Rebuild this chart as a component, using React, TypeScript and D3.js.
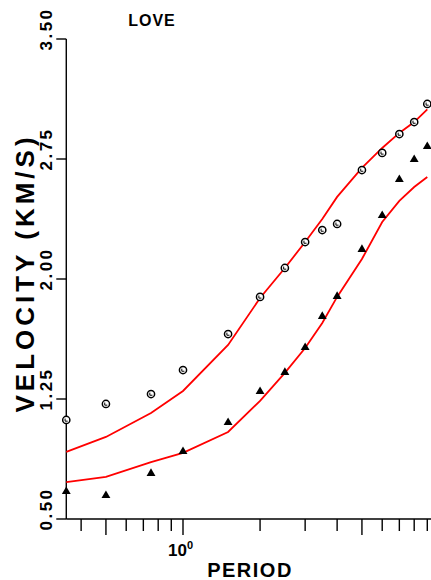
import React from "react";
import * as d3 from "d3";

const periods = [0.35, 0.5, 0.75, 1, 1.5, 2, 2.5, 3, 3.5, 4, 5, 6, 7, 8, 9];
const circleVel = [1.119, 1.219, 1.281, 1.431, 1.656, 1.888, 2.069, 2.231, 2.306, 2.344, 2.681, 2.788, 2.906, 2.981, 3.094];
const triangleVel = [0.675, 0.65, 0.788, 0.925, 1.106, 1.3, 1.419, 1.575, 1.769, 1.894, 2.188, 2.4, 2.625, 2.75, 2.831];
const upperModel = [0.919, 1.013, 1.163, 1.3, 1.588, 1.881, 2.069, 2.231, 2.375, 2.513, 2.694, 2.819, 2.913, 2.981, 3.06];
const lowerModel = [0.731, 0.763, 0.856, 0.913, 1.044, 1.238, 1.413, 1.569, 1.725, 1.888, 2.125, 2.356, 2.488, 2.575, 2.638];
const yTicks = [0.5, 1.25, 2.0, 2.75, 3.5];
const yTickLabels = ["0.50", "1.25", "2.00", "2.75", "3.50"];
const xMinorTicks = [0.4, 0.5, 0.6, 0.7, 0.8, 0.9, 1, 2, 3, 4, 5, 6, 7, 8, 9];
const xLongTicks = [0.5, 1, 5];

const W = 431;
const H = 580;
const font = "'Liberation Sans', Arial, Helvetica, sans-serif";

export default function App() {
  const x = d3.scaleLog().domain([1, 10]).range([183, 439]);
  const y = d3.scaleLinear().domain([0.5, 3.5]).range([519, 39]);
  const x0 = x(0.35);
  const line = d3
    .line<number>()
    .x((_, i) => x(periods[i]))
    .y((d) => y(d));
  const tri = d3.symbol().type(d3.symbolTriangle).size(34)() as string;

  return (
    <svg
      width={W}
      height={H}
      style={{ position: "absolute", left: 0, top: 0, background: "#fff" }}
      fontFamily={font}
    >
      <defs>
        <clipPath id="plot">
          <rect x={x0 - 6} y={30} width={W - x0 + 6} height={500} />
        </clipPath>
      </defs>
      {/* axes */}
      <line x1={x0} x2={x0} y1={y(3.5)} y2={y(0.5)} stroke="#000" strokeWidth={1.4} />
      <line x1={x0} x2={W} y1={y(0.5)} y2={y(0.5)} stroke="#000" strokeWidth={1.4} />
      {yTicks.map((t, i) => (
        <g key={t}>
          <line x1={x0 - 10} x2={x0} y1={y(t)} y2={y(t)} stroke="#000" strokeWidth={1.4} />
          <text
            transform={`translate(46,${y(t) - 10}) rotate(-90)`}
            textAnchor="middle"
            dominantBaseline="central"
            fontSize={17}
            fontWeight="bold"
            letterSpacing={2.5}
            fill="#000"
          >
            {yTickLabels[i]}
          </text>
        </g>
      ))}
      {xMinorTicks.map((t) => (
        <line
          key={t}
          x1={x(t)}
          x2={x(t)}
          y1={y(0.5)}
          y2={y(0.5) + (xLongTicks.includes(t) ? 16 : 12)}
          stroke="#000"
          strokeWidth={1.4}
        />
      ))}
      <text x={x(1) - 15} y={556} fontSize={17} fontWeight="bold" fill="#000">
        10
        <tspan dy={-7} fontSize={11}>
          0
        </tspan>
      </text>
      <text x={250} y={577} textAnchor="middle" fontSize={20} fontWeight="bold" letterSpacing={1.5} fill="#000">
        PERIOD
      </text>
      <text
        transform="translate(25,273) rotate(-90)"
        textAnchor="middle"
        dominantBaseline="central"
        fontSize={26}
        fontWeight="bold"
        letterSpacing={4}
        fill="#000"
      >
        VELOCITY (KM/S)
      </text>
      <text x={152} y={26} textAnchor="middle" fontSize={16} fontWeight="bold" letterSpacing={1} fill="#000">
        LOVE
      </text>
      <g clipPath="url(#plot)">
        <path d={line(upperModel) || ""} fill="none" stroke="#ff0000" strokeWidth={1.8} />
        <path d={line(lowerModel) || ""} fill="none" stroke="#ff0000" strokeWidth={1.8} />
        {periods.map((p, i) => (
          <g key={"c" + p} transform={`translate(${x(p)},${y(circleVel[i])})`}>
            <circle r={3.6} fill="#fff" stroke="#000" strokeWidth={1.5} />
            <path d="M-1.2,-1.4 L-1.2,1.2 L1.4,1.2" fill="none" stroke="#000" strokeWidth={1} />
          </g>
        ))}
        {periods.map((p, i) => (
          <path
            key={"t" + p}
            d={tri}
            transform={`translate(${x(p)},${y(triangleVel[i]) + 0.5})`}
            fill="#000"
          />
        ))}
      </g>
    </svg>
  );
}
